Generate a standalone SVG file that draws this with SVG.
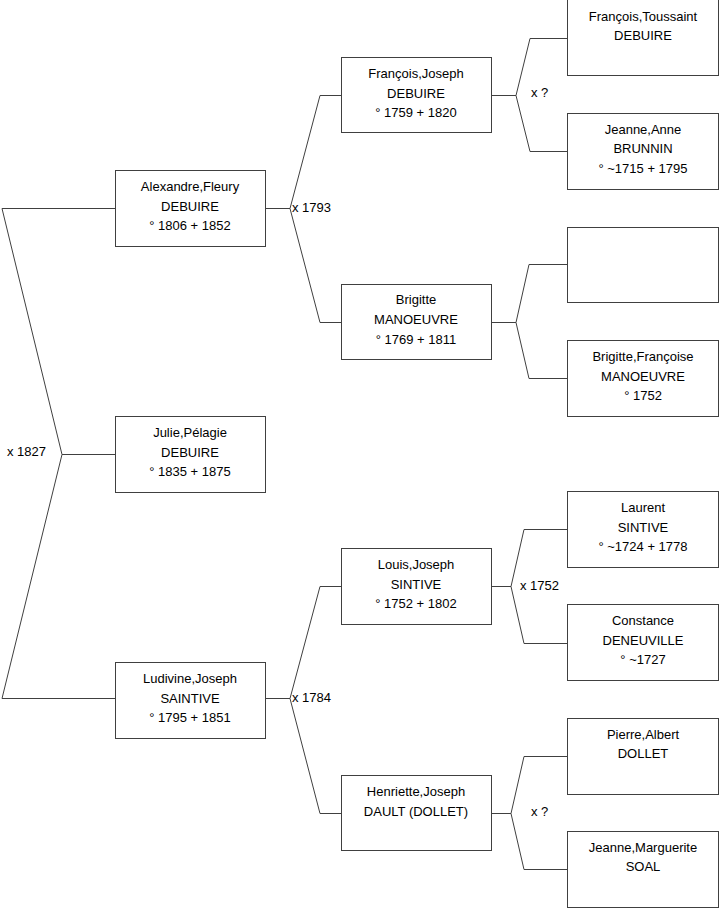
<svg xmlns="http://www.w3.org/2000/svg" width="719" height="908" viewBox="0 0 719 908">
<style>
.box{fill:#fff;stroke:#404040;stroke-width:1}
.ln{fill:none;stroke:#404040;stroke-width:1}
text{font-family:"Liberation Sans",Arial,sans-serif;font-size:13px;fill:#000}
.c{text-anchor:middle}
</style>
<rect width="719" height="908" fill="#fff"/>
<g id="connectors">
<polyline class="ln" points="115,208.5 2,208.5 62,454.5 2,698.5 115,698.5"/>
<line class="ln" x1="62" y1="454.5" x2="115" y2="454.5"/>
<text x="7" y="456">x 1827</text>
<polyline class="ln" points="341,95.5 320,95.5 290,208.5 320,322.5 341,322.5"/>
<line class="ln" x1="265" y1="208.5" x2="290" y2="208.5"/>
<text x="292" y="212">x 1793</text>
<polyline class="ln" points="341,586.5 320,586.5 290,698.5 320,813.5 341,813.5"/>
<line class="ln" x1="265" y1="698.5" x2="290" y2="698.5"/>
<text x="292" y="702">x 1784</text>
<polyline class="ln" points="567,38.5 530,38.5 516,95.5 530,151.5 567,151.5"/>
<line class="ln" x1="492" y1="95.5" x2="516" y2="95.5"/>
<text x="531" y="97">x ?</text>
<polyline class="ln" points="567,264.5 529,264.5 516,322.5 529,378.5 567,378.5"/>
<line class="ln" x1="492" y1="322.5" x2="516" y2="322.5"/>
<polyline class="ln" points="567,529.5 524,529.5 511,586.5 524,643.5 567,643.5"/>
<line class="ln" x1="492" y1="586.5" x2="511" y2="586.5"/>
<text x="520" y="590">x 1752</text>
<polyline class="ln" points="567,756.5 524,756.5 511,813.5 524,869.5 567,869.5"/>
<line class="ln" x1="492" y1="813.5" x2="511" y2="813.5"/>
<text x="531" y="816">x ?</text>
</g>
<g id="alexandre"><rect class="box" x="115.5" y="170.5" width="150" height="76"/>
<text class="c" x="190" y="191">Alexandre,Fleury</text><text class="c" x="190" y="211">DEBUIRE</text><text class="c" x="190" y="230">° 1806 + 1852</text></g>
<g id="julie"><rect class="box" x="115.5" y="416.5" width="150" height="76"/>
<text class="c" x="190" y="437">Julie,Pélagie</text><text class="c" x="190" y="457">DEBUIRE</text><text class="c" x="190" y="476">° 1835 + 1875</text></g>
<g id="ludivine"><rect class="box" x="115.5" y="662.5" width="150" height="76"/>
<text class="c" x="190" y="683">Ludivine,Joseph</text><text class="c" x="190" y="703">SAINTIVE</text><text class="c" x="190" y="722">° 1795 + 1851</text></g>
<g id="francoisjoseph"><rect class="box" x="341.5" y="57.5" width="150" height="75"/>
<text class="c" x="416" y="78">François,Joseph</text><text class="c" x="416" y="98">DEBUIRE</text><text class="c" x="416" y="117">° 1759 + 1820</text></g>
<g id="brigitte"><rect class="box" x="341.5" y="284.5" width="150" height="75"/>
<text class="c" x="416" y="304">Brigitte</text><text class="c" x="416" y="324">MANOEUVRE</text><text class="c" x="416" y="344">° 1769 + 1811</text></g>
<g id="louisjoseph"><rect class="box" x="341.5" y="548.5" width="150" height="76"/>
<text class="c" x="416" y="569">Louis,Joseph</text><text class="c" x="416" y="589">SINTIVE</text><text class="c" x="416" y="608">° 1752 + 1802</text></g>
<g id="henriette"><rect class="box" x="341.5" y="775.5" width="150" height="75"/>
<text class="c" x="416" y="796">Henriette,Joseph</text><text class="c" x="416" y="816">DAULT (DOLLET)</text></g>
<g id="francoistoussaint"><rect class="box" x="567.5" y="-0.5" width="151" height="76"/>
<text class="c" x="643" y="21">François,Toussaint</text><text class="c" x="643" y="40">DEBUIRE</text></g>
<g id="jeanneanne"><rect class="box" x="567.5" y="113.5" width="151" height="76"/>
<text class="c" x="643" y="134">Jeanne,Anne</text><text class="c" x="643" y="153">BRUNNIN</text><text class="c" x="643" y="173">° ~1715 + 1795</text></g>
<g id="empty"><rect class="box" x="567.5" y="227.5" width="151" height="75"/></g>
<g id="brigittefrancoise"><rect class="box" x="567.5" y="340.5" width="151" height="76"/>
<text class="c" x="643" y="361">Brigitte,Françoise</text><text class="c" x="643" y="381">MANOEUVRE</text><text class="c" x="643" y="400">° 1752</text></g>
<g id="laurent"><rect class="box" x="567.5" y="491.5" width="151" height="76"/>
<text class="c" x="643" y="512">Laurent</text><text class="c" x="643" y="532">SINTIVE</text><text class="c" x="643" y="551">° ~1724 + 1778</text></g>
<g id="constance"><rect class="box" x="567.5" y="604.5" width="151" height="76"/>
<text class="c" x="643" y="625">Constance</text><text class="c" x="643" y="645">DENEUVILLE</text><text class="c" x="643" y="664">° ~1727</text></g>
<g id="pierre"><rect class="box" x="567.5" y="718.5" width="151" height="76"/>
<text class="c" x="643" y="739">Pierre,Albert</text><text class="c" x="643" y="758">DOLLET</text></g>
<g id="jeannemarguerite"><rect class="box" x="567.5" y="831.5" width="151" height="76"/>
<text class="c" x="643" y="852">Jeanne,Marguerite</text><text class="c" x="643" y="871">SOAL</text></g>
</svg>
